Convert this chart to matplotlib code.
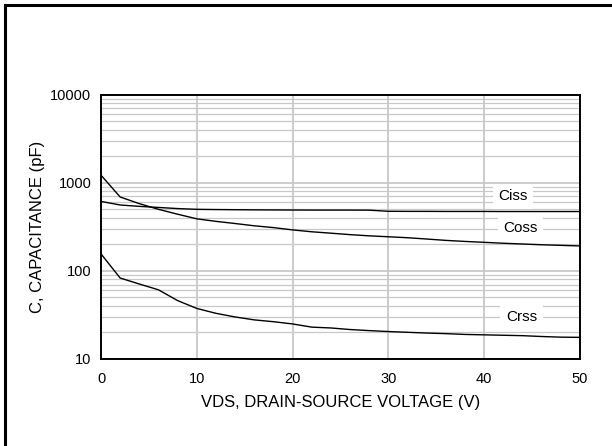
import numpy as np
import matplotlib.pyplot as plt
from matplotlib.ticker import FixedLocator, LogLocator, NullFormatter

plt.rcParams['font.family'] = ['Liberation Sans', 'DejaVu Sans']

# drain-source voltage (V)
vds = [0, 2, 4, 6, 8, 10, 12, 14, 16, 18, 20, 22, 24, 26, 28, 30, 32, 34, 36, 38, 40, 42, 44, 46, 48, 50]
# capacitances (pF)
ciss = [615, 560, 540, 525, 510, 500, 497, 495, 493, 492, 491, 490, 490, 490, 489, 475, 474, 474, 473, 473, 473, 472, 472, 472, 472, 472]
coss = [1220, 690, 580, 500, 440, 390, 365, 345, 325, 310, 292, 278, 268, 258, 250, 244, 238, 230, 222, 216, 211, 206, 202, 198, 195, 192]
crss = [156, 83, 71, 61, 46, 37.5, 33, 30, 27.8, 26.5, 25, 23, 22.5, 21.6, 21, 20.5, 20.1, 19.7, 19.4, 19, 18.8, 18.6, 18.4, 18, 17.7, 17.6]

curve_names = ['Ciss', 'Coss', 'Crss']
label_pos = [(43.0, 705), (43.8, 305), (43.9, 30)]

fig = plt.figure(figsize=(6.12, 4.46), dpi=100)
ax = fig.add_axes([101/612, 1 - 359/446, 479/612, 264.3/446])

# outer frame (only top and left edges show)
fig.add_artist(plt.Line2D([5/612, 5/612], [0, 1 - 5/446], color='black', lw=2.2, transform=fig.transFigure))
fig.add_artist(plt.Line2D([5/612, 1], [1 - 5/446, 1 - 5/446], color='black', lw=2.2, transform=fig.transFigure))

ax.set_yscale('log')
ax.set_xlim(0, 50)
ax.set_ylim(10, 10000)

ax.plot(vds, ciss, color='black', lw=1.0, zorder=3)
ax.plot(vds, coss, color='black', lw=1.0, zorder=3)
ax.plot(vds, crss, color='black', lw=1.0, zorder=3)

ax.xaxis.set_major_locator(FixedLocator([0, 10, 20, 30, 40, 50]))
ax.yaxis.set_major_locator(FixedLocator([10, 100, 1000, 10000]))
ax.yaxis.set_minor_locator(LogLocator(base=10, subs=np.arange(2, 10)))
ax.yaxis.set_minor_formatter(NullFormatter())
ax.set_yticklabels(['10', '100', '1000', '10000'])

ax.grid(True, which='major', color='#c8c8c8', lw=1.3, zorder=0)
ax.grid(True, which='minor', axis='y', color='#c8c8c8', lw=0.9, zorder=0)
ax.set_axisbelow(True)

ax.tick_params(which='both', length=0, labelsize=10.5)
ax.tick_params(axis='x', pad=9.5)
ax.tick_params(axis='y', pad=7)
for s in ax.spines.values():
    s.set_linewidth(1.4)

for name, (x, y) in zip(curve_names, label_pos):
    ax.text(x, y, name, fontsize=11, ha='center', va='center', zorder=4,
            bbox=dict(facecolor='white', edgecolor='none', pad=4))

ax.set_xlabel('VDS, DRAIN-SOURCE VOLTAGE (V)', fontsize=12, labelpad=6)
ax.set_ylabel('C, CAPACITANCE (pF)', fontsize=12, labelpad=4)

fig.savefig('out.png', dpi=100)
